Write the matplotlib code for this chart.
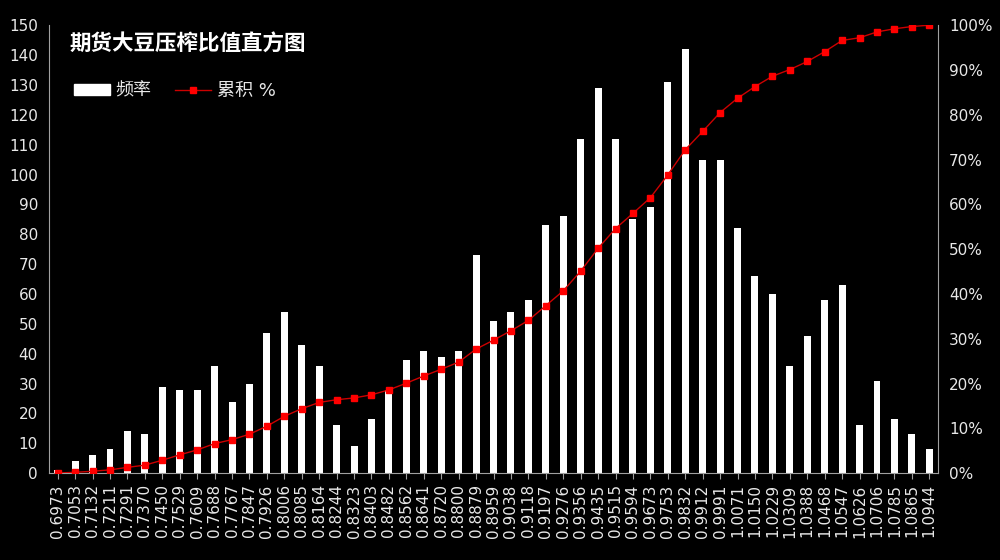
import matplotlib.pyplot as plt
from matplotlib.lines import Line2D
from matplotlib.patches import Patch
from matplotlib.ticker import PercentFormatter

plt.rcParams['font.family'] = ['DejaVu Sans', 'Noto Sans CJK SC']

bins = ['0.6973', '0.7053', '0.7132', '0.7211', '0.7291', '0.7370', '0.7450', '0.7529',
        '0.7609', '0.7688', '0.7767', '0.7847', '0.7926', '0.8006', '0.8085', '0.8164',
        '0.8244', '0.8323', '0.8403', '0.8482', '0.8562', '0.8641', '0.8720', '0.8800',
        '0.8879', '0.8959', '0.9038', '0.9118', '0.9197', '0.9276', '0.9356', '0.9435',
        '0.9515', '0.9594', '0.9673', '0.9753', '0.9832', '0.9912', '0.9991', '1.0071',
        '1.0150', '1.0229', '1.0309', '1.0388', '1.0468', '1.0547', '1.0626', '1.0706',
        '1.0785', '1.0865', '1.0944']

freq = [1, 4, 6, 8, 14, 13, 29, 28, 28, 36, 24, 30, 47, 54, 43, 36,
        16, 9, 18, 28, 38, 41, 39, 41, 73, 51, 54, 58, 83, 86, 112, 129,
        112, 85, 89, 131, 142, 105, 105, 82, 66, 60, 36, 46, 58, 63, 16, 31,
        18, 13, 8]

cum_pct = [0.04, 0.2, 0.43, 0.75, 1.3, 1.8, 2.9, 4.1, 5.2, 6.6, 7.5, 8.7, 10.5, 12.7, 14.4, 15.8,
           16.4, 16.8, 17.5, 18.6, 20.1, 21.7, 23.2, 24.8, 27.7, 29.7, 31.8, 34.1, 37.4, 40.7, 45.1, 50.2,
           54.6, 58.0, 61.5, 66.6, 72.2, 76.3, 80.5, 83.7, 86.3, 88.6, 90.1, 91.9, 94.1, 96.6, 97.2, 98.5,
           99.2, 99.7, 100.0]

fg = '#e8e8e8'
axis_col = '#a0a0a0'

fig = plt.figure(figsize=(10, 5.6), dpi=100, facecolor='black')
ax = fig.add_axes([0.049, 0.155, 0.889, 0.8])
ax.set_facecolor('black')
x = list(range(len(bins)))
ax.bar(x, freq, width=0.4, color='white', zorder=2)
ax.set_xlim(-0.5, len(bins) - 0.5)
ax.set_ylim(0, 150)
ax.set_yticks(range(0, 151, 10))
ax.set_xticks(x)
ax.set_xticklabels(bins, rotation=90, fontsize=11, color=fg)
ax.tick_params(axis='y', length=0, labelsize=11, labelcolor=fg, pad=8)
ax.tick_params(axis='x', length=4, color=axis_col, pad=4)
for s in ['top', 'right']:
    ax.spines[s].set_visible(False)
for s in ['left', 'bottom']:
    ax.spines[s].set_color(axis_col)

ax2 = ax.twinx()
ax2.plot(x, cum_pct, color='#cc0000', lw=1, marker='s', markersize=4.5,
         markerfacecolor='#ff0000', markeredgecolor='#ff0000', zorder=3)
ax2.set_ylim(0, 100)
ax2.set_yticks(range(0, 101, 10))
ax2.yaxis.set_major_formatter(PercentFormatter(decimals=0))
ax2.tick_params(axis='y', length=0, labelsize=11, labelcolor=fg, pad=8)
for s in ['top', 'left', 'bottom']:
    ax2.spines[s].set_visible(False)
ax2.spines['right'].set_color(axis_col)

fig.text(0.07, 0.922, '期货大豆压榨比值直方图', color='white', fontsize=15.5,
         fontweight='bold', family=['Noto Sans CJK SC'], va='center')

handles = [Patch(facecolor='white', edgecolor='white'),
           Line2D([0], [0], color='#cc0000', lw=1, marker='s', markersize=4.5,
                  markerfacecolor='#ff0000', markeredgecolor='#ff0000')]
leg = ax.legend(handles, ['频率', '累积 %'], ncol=2, frameon=False,
                loc='upper left', bbox_to_anchor=(0.01, 0.91),
                fontsize=13, labelcolor=fg, handlelength=2.0, handleheight=0.6,
                columnspacing=1.3, handletextpad=0.3)

fig.savefig('out.png', dpi=100, facecolor='black')
